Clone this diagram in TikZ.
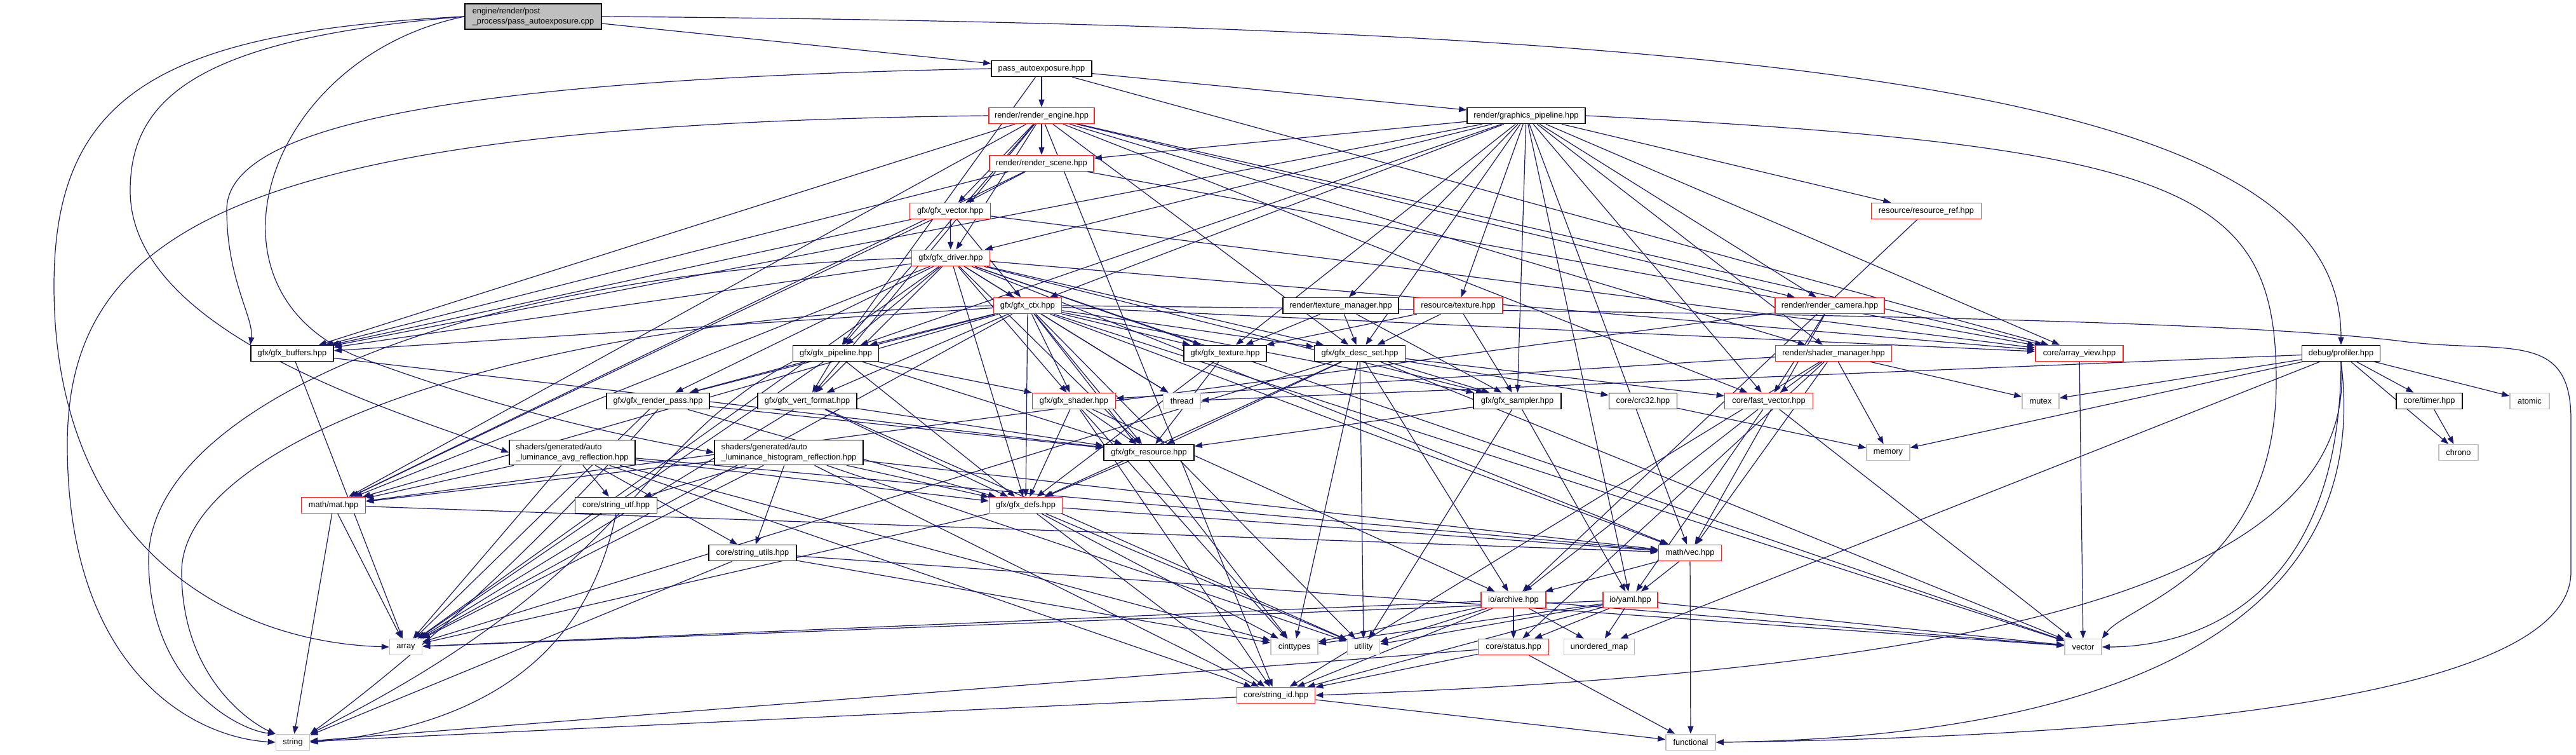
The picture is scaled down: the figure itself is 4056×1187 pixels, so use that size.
\documentclass[tikz,border=0pt]{standalone}
\usepackage{fontspec}
\setmainfont{Liberation Sans}
\usetikzlibrary{arrows.meta}
\pgfdeclarelayer{bg}
\pgfsetlayers{bg,main}
\definecolor{edgeblue}{HTML}{191970}
\definecolor{redborder}{HTML}{FF2020}
\definecolor{grayborder}{HTML}{C0C0C0}
\definecolor{cppfill}{HTML}{BFBFBF}
\begin{document}
\begin{tikzpicture}[x=1pt,y=-1pt,
 base/.style={rectangle, inner sep=0pt, fill=white, font=\fontsize{12.8}{15.5}\selectfont, line width=1.6pt, minimum height=25pt},
 blk/.style={base, draw=black},
 rd/.style={base, draw=redborder},
 gr/.style={base, draw=grayborder},
 e/.style={draw=edgeblue, line width=1.2pt, -{Triangle[length=12pt,width=9pt]}},
]
\useasboundingbox (0,0) rectangle (4056,1187);
% nodes
\node[blk, fill=cppfill, minimum width=215pt, minimum height=40pt, align=left] (cpp) at (839.5,26) {engine/render/post\\\_process/pass\_autoexposure.cpp};
\node[blk, minimum width=158pt] (pae) at (1640,108) {pass\_autoexposure.hpp};
\node[rd, minimum width=166pt] (reng) at (1640,182) {render/render\_engine.hpp};
\node[rd, minimum width=164pt] (rscene) at (1640,257) {render/render\_scene.hpp};
\node[rd, minimum width=127pt] (gvec) at (1496,332) {gfx/gfx\_vector.hpp};
\node[blk, minimum width=186pt] (gpl) at (2403,182) {render/graphics\_pipeline.hpp};
\node[rd, minimum width=173pt] (rref) at (3033,332) {resource/resource\_ref.hpp};
\node[rd, minimum width=123pt] (gdrv) at (1497,406) {gfx/gfx\_driver.hpp};
\node[rd, minimum width=107pt] (gctx) at (1618,481) {gfx/gfx\_ctx.hpp};
\node[blk, minimum width=182pt] (texmgr) at (2111,481) {render/texture\_manager.hpp};
\node[rd, minimum width=140pt] (rtex) at (2296,481) {resource/texture.hpp};
\node[rd, minimum width=172pt] (rcam) at (2881,481) {render/render\_camera.hpp};
\node[blk, minimum width=130pt] (gbuf) at (460,556) {gfx/gfx\_buffers.hpp};
\node[blk, minimum width=135pt] (gpipe) at (1316,556) {gfx/gfx\_pipeline.hpp};
\node[blk, minimum width=130pt] (gtex) at (1929,556) {gfx/gfx\_texture.hpp};
\node[blk, minimum width=143pt] (gds) at (2141,556) {gfx/gfx\_desc\_set.hpp};
\node[rd, minimum width=183pt] (shmgr) at (2887,556) {render/shader\_manager.hpp};
\node[rd, minimum width=138pt] (aview) at (3274,556) {core/array\_view.hpp};
\node[blk, minimum width=123pt] (prof) at (3686,556) {debug/profiler.hpp};
\node[blk, minimum width=162pt] (grp) at (1036,631) {gfx/gfx\_render\_pass.hpp};
\node[blk, minimum width=156pt] (gvf) at (1271,631) {gfx/gfx\_vert\_format.hpp};
\node[rd, minimum width=131pt] (gshader) at (1691,631) {gfx/gfx\_shader.hpp};
\node[gr, minimum width=59pt] (thread) at (1861,631) {thread};
\node[blk, minimum width=138pt] (gsamp) at (2389,631) {gfx/gfx\_sampler.hpp};
\node[blk, minimum width=107pt] (crc) at (2587,631) {core/crc32.hpp};
\node[rd, minimum width=139pt] (fvec) at (2785,631) {core/fast\_vector.hpp};
\node[gr, minimum width=58pt] (mutex) at (3213,631) {mutex};
\node[blk, minimum width=104pt] (timer) at (3825,631) {core/timer.hpp};
\node[gr, minimum width=62pt] (atomic) at (3983,631) {atomic};
\node[blk, minimum width=198pt, minimum height=39pt, align=left] (savg) at (901,712) {shaders/generated/auto\\\_luminance\_avg\_reflection.hpp};
\node[blk, minimum width=234pt, minimum height=39pt, align=left] (shist) at (1242,712) {shaders/generated/auto\\\_luminance\_histogram\_reflection.hpp};
\node[blk, minimum width=142pt] (gres) at (1809,712) {gfx/gfx\_resource.hpp};
\node[gr, minimum width=68pt] (memory) at (2973,712) {memory};
\node[gr, minimum width=62pt] (chrono) at (3871,712) {chrono};
\node[rd, minimum width=101pt] (mat) at (525,795) {math/mat.hpp};
\node[blk, minimum width=129pt] (sutf) at (970,795) {core/string\_utf.hpp};
\node[rd, minimum width=115pt] (gdefs) at (1615,795) {gfx/gfx\_defs.hpp};
\node[rd, minimum width=99pt] (vec) at (2661,870) {math/vec.hpp};
\node[blk, minimum width=138pt] (sutils) at (1185,870) {core/string\_utils.hpp};
\node[rd, minimum width=102pt] (archive) at (2383,944) {io/archive.hpp};
\node[rd, minimum width=86pt] (yaml) at (2567,944) {io/yaml.hpp};
\node[gr, minimum width=51pt] (array) at (639,1018) {array};
\node[gr, minimum width=74pt] (cinttypes) at (2038,1018) {cinttypes};
\node[gr, minimum width=51pt] (utility) at (2147,1018) {utility};
\node[rd, minimum width=111pt] (status) at (2383,1018) {core/status.hpp};
\node[gr, minimum width=111pt] (umap) at (2518,1018) {unordered\_map};
\node[gr, minimum width=58pt] (vector) at (3280,1018) {vector};
\node[rd, minimum width=123pt] (sid) at (2009,1094) {core/string\_id.hpp};
\node[gr, minimum width=53pt] (string) at (461,1168) {string};
\node[gr, minimum width=78pt] (functional) at (2662,1168) {functional};
% edges
\begin{pgfonlayer}{bg}
\foreach \a/\b in {cpp/pae,
 pae/reng, pae/gpl, pae/gpipe, pae/aview,
 reng/rscene, reng/gvec, reng/gdrv, reng/gbuf, reng/gpipe, reng/gds, reng/gvf, reng/rcam, reng/aview, reng/fvec, reng/mat, reng/sid, reng/shmgr,
 rscene/gvec, rscene/gbuf, rscene/aview, rscene/mat,
 gvec/gdrv, gvec/gctx, gvec/gbuf, gvec/aview, gvec/mat,
 gpl/rscene, gpl/gdrv, gpl/gctx, gpl/gpipe, gpl/gtex, gpl/texmgr, gpl/rtex, gpl/rref, gpl/rcam, gpl/shmgr, gpl/gds, gpl/gsamp, gpl/aview, gpl/gbuf, gpl/vec, gpl/fvec, gpl/yaml,
 gdrv/gctx, gdrv/gbuf, gdrv/gpipe, gdrv/gtex, gdrv/grp, gdrv/gvf, gdrv/gshader, gdrv/thread, gdrv/gres, gdrv/gdefs, gdrv/gds, gdrv/gsamp, gdrv/mat, gdrv/array, gdrv/vector, gdrv/aview, gdrv/vec,
 gctx/gbuf, gctx/gpipe, gctx/gtex, gctx/grp, gctx/gvf, gctx/gshader, gctx/thread, gctx/gres, gctx/gdefs, gctx/gds, gctx/gsamp, gctx/mat, gctx/array, gctx/aview, gctx/vector, gctx/vec, gctx/utility, gctx/cinttypes,
 texmgr/gtex, texmgr/gsamp, texmgr/gds,
 rtex/gtex, rtex/gsamp, rtex/gds,
 rref/archive,
 rcam/vec, rcam/mat, rcam/fvec,
 shmgr/gshader, shmgr/fvec, shmgr/memory, shmgr/mutex, shmgr/vec, shmgr/sid, shmgr/status,
 gpipe/gvf, gpipe/grp, gpipe/gshader, gpipe/gres, gpipe/gdefs, gpipe/array,
 grp/gres, grp/gdefs, grp/array,
 gvf/gdefs, gvf/gres, gvf/array, gvf/utility,
 gshader/gres, gshader/gdefs, gshader/archive, gshader/sid, gshader/cinttypes,
 gtex/gres, gtex/gdefs,
 gres/gdefs,
 gbuf/gres, gbuf/array,
 gds/gsamp, gds/gres, gds/gdefs, gds/crc, gds/fvec, gds/cinttypes, gds/utility, gds/archive, gds/vector, gds/array,
 gsamp/gres, gsamp/yaml, gsamp/utility,
 crc/memory,
 fvec/vector, fvec/yaml, fvec/archive,
 aview/vector,
 prof/mutex, prof/thread, prof/memory, prof/timer, prof/atomic, prof/chrono, prof/umap,
 timer/chrono,
 savg/mat, savg/vec, savg/sutf, savg/sutils, savg/gdefs, savg/array, savg/sid, savg/cinttypes,
 shist/mat, shist/vec, shist/sutf, shist/sutils, shist/gdefs, shist/array, shist/sid, shist/utility,
 mat/vec, mat/array, mat/string,
 sutils/string, sutils/vector, sutils/cinttypes,
 gdefs/vec, gdefs/sid, gdefs/cinttypes, gdefs/array, gdefs/utility,
 vec/functional, vec/yaml, vec/archive,
 archive/status, archive/umap, archive/cinttypes, archive/utility, archive/sid, archive/array, archive/vector,
 yaml/status, yaml/umap, yaml/utility, yaml/cinttypes, yaml/sid, yaml/vector, yaml/array,
 status/sid, status/functional, status/string,
 sid/string, sid/functional}
 \draw[e] (\a) -- (\b);
% curved long edges
\draw[e] (cpp.east) .. controls +(2000,15) and +(0,-380) .. (prof.north);
\draw[e] (cpp.west) .. controls (250,50) and (85,150) .. (85,450) .. controls (85,850) and (350,1010) .. (array.west);
\draw[e] (cpp.west) .. controls (320,60) and (205,150) .. (205,300) .. controls (205,520) and (600,640) .. (savg.west);
\draw[e] (cpp.west) .. controls (420,90) and (300,450) .. (560,560) .. controls (800,650) and (1000,690) .. (shist.west);
\draw[e] (pae.west) .. controls (700,125) and (357,200) .. (357,330) .. controls (357,440) and (400,500) .. (gbuf.north west);
\draw[e] (reng.west) .. controls (400,195) and (106,350) .. (106,700) .. controls (106,1050) and (300,1160) .. (string.west);
\draw[e] (gdrv.west) .. controls (700,430) and (234,650) .. (234,880) .. controls (234,1080) and (380,1150) .. (string.north west);
\draw[e] (gctx.west) .. controls (800,500) and (286,700) .. (286,900) .. controls (286,1070) and (400,1140) .. (string.north west);
\draw[e] (gpipe.south west) .. controls (1000,700) and (1000,900) .. (string.north east);
\draw[e] (grp.south) .. controls (900,800) and (700,1000) .. (string.north east);
\draw[e] (sutf.south) .. controls (930,1000) and (800,1140) .. (string.east);
\draw[e] (gctx.east) .. controls (2600,490) and (3500,500) .. (3790,538) .. controls (3950,556) and (4048,520) .. (4048,660) -- (4048,900) .. controls (4048,1110) and (3300,1160) .. (functional.east);
\draw[e] (prof.south) .. controls (3740,1000) and (3300,1160) .. (functional.east);
\draw[e] (prof.south) .. controls (3684,950) and (3450,1018) .. (vector.east);
\draw[e] (prof.south) .. controls (3720,950) and (3000,1060) .. (sid.east);
\draw[e] (gpl.east) .. controls (3450,230) and (3584,300) .. (3584,600) .. controls (3584,900) and (3350,950) .. (vector.north east);
\end{pgfonlayer}
\end{tikzpicture}
\end{document}
